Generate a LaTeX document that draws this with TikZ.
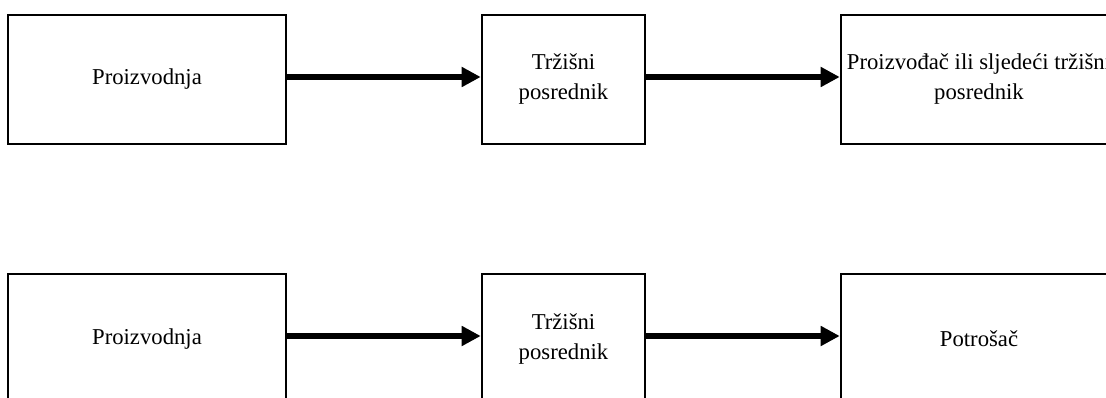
\documentclass[tikz,border=0pt]{standalone}
\usepackage{fontspec}
\setmainfont{Liberation Serif}
\usetikzlibrary{arrows.meta}
\tikzset{
  box/.style={draw=black, line width=1.6pt, fill=white, inner sep=0pt, align=center,
    font=\fontsize{22.7}{30}\selectfont},
  flow/.style={line width=6pt, -{Triangle[length=19pt,width=19pt]}, shorten >=0.5pt}
}
\begin{document}
\begin{tikzpicture}[x=1pt,y=-1pt]
\useasboundingbox (0,0) rectangle (1106,398);
\clip (0,0) rectangle (1106,398);
% top row
\node[box, minimum width=278pt, minimum height=129pt] (a1) at (147,79.5) {Proizvodnja};
\node[box, minimum width=163pt, minimum height=129pt] (a2) at (563.5,79.5) {Tržišni\\posrednik};
\node[box, minimum width=276pt, minimum height=129pt] (a3) at (979,79.5) {Proizvođač ili sljedeći tržišni\\posrednik};
% bottom row
\node[box, minimum width=278pt, minimum height=130pt] (b1) at (147,339) {Proizvodnja};
\node[box, minimum width=163pt, minimum height=130pt] (b2) at (563.5,339) {Tržišni\\posrednik};
\node[box, minimum width=276pt, minimum height=130pt] (b3) at (979,339) {Potrošač};
% arrows
\draw[flow] ([yshift=2.5pt]a1.east) -- ([yshift=2.5pt]a2.west);
\draw[flow] ([yshift=2.5pt]a2.east) -- ([yshift=2.5pt]a3.west);
\draw[flow] ([yshift=3pt]b1.east) -- ([yshift=3pt]b2.west);
\draw[flow] ([yshift=3pt]b2.east) -- ([yshift=3pt]b3.west);
\end{tikzpicture}
\end{document}
